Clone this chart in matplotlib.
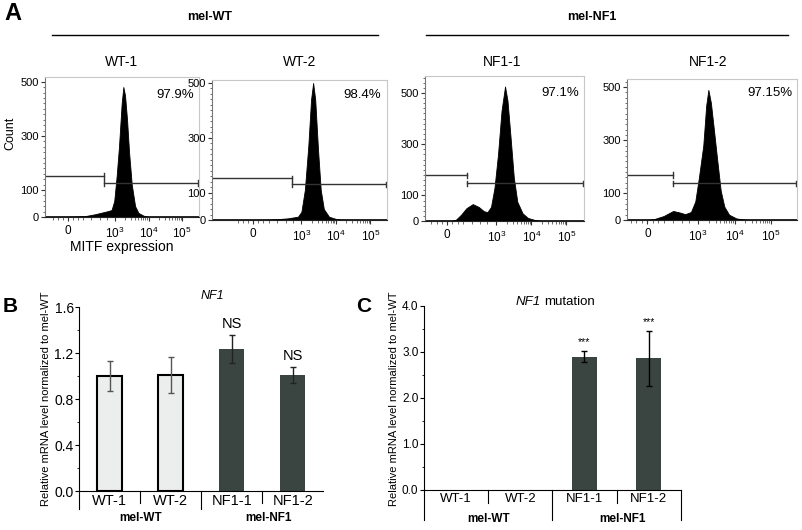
import numpy as np
import matplotlib
matplotlib.use('Agg')
import matplotlib.pyplot as plt
from matplotlib.lines import Line2D
from matplotlib.ticker import MultipleLocator, FixedLocator
import matplotlib.transforms as mtrans

plt.rcParams['font.family'] = ['Liberation Sans', 'DejaVu Sans']
plt.rcParams['mathtext.fontset'] = 'custom'
plt.rcParams['mathtext.rm'] = 'Liberation Sans'
plt.rcParams['mathtext.it'] = 'Liberation Sans:italic'

W, H = 802, 530

# flow histograms, x in display units (0 -> 0, 10^3 -> 1.4, 10^4 -> 2.4, 10^5 -> 3.4)
samples = ['WT-1', 'WT-2', 'NF1-1', 'NF1-2']
percents = ['97.9%', '98.4%', '97.1%', '97.15%']

wt1_x = [-0.1, 0.5, 0.8, 1.0, 1.2, 1.3, 1.38, 1.45, 1.52, 1.6, 1.65, 1.7, 1.76, 1.82, 1.9, 2.0, 2.1, 2.25, 2.4]
wt1_c = [0, 3, 10, 16, 22, 26, 60, 150, 260, 420, 481, 450, 360, 240, 120, 40, 15, 5, 0]
wt2_x = [0.3, 0.7, 1.0, 1.3, 1.4, 1.5, 1.6, 1.68, 1.74, 1.8, 1.88, 1.96, 2.05, 2.2, 2.4, 2.6]
wt2_c = [0, 3, 6, 12, 30, 110, 270, 440, 500, 440, 260, 110, 40, 12, 4, 0]
nf11_x = [0.1, 0.25, 0.4, 0.55, 0.73, 0.9, 1.05, 1.15, 1.25, 1.35, 1.45, 1.55, 1.65, 1.72, 1.8, 1.9, 2.0, 2.15, 2.3, 2.5, 2.7]
nf11_c = [0, 5, 25, 50, 66, 55, 38, 35, 55, 130, 260, 430, 525, 470, 340, 170, 75, 30, 12, 4, 0]
nf12_x = [0.0, 0.2, 0.45, 0.71, 0.9, 1.04, 1.2, 1.32, 1.42, 1.54, 1.62, 1.68, 1.75, 1.84, 1.92, 2.02, 2.12, 2.25, 2.45, 2.75]
nf12_c = [0, 4, 15, 34, 28, 22, 30, 70, 160, 280, 430, 489, 440, 330, 230, 110, 50, 20, 6, 0]

# gates: split position, left gate height, right gate height
gate_x = [1.07, 1.13, 0.58, 0.71]
gate_left = [152, 152, 179, 169]
gate_right = [126, 130, 147, 138]

flow_ticks = [0, 1.4, 2.4, 3.4]
flow_ticklabels = ['0', '$10^3$', '$10^4$', '$10^5$']
count_ticks = [0, 100, 300, 500]

# qPCR bars
groups = ['WT-1', 'WT-2', 'NF1-1', 'NF1-2']
nf1_expr = [1.0, 1.01, 1.24, 1.01]
nf1_err = [0.13, 0.155, 0.12, 0.07]
nf1_mut = [0, 0, 2.90, 2.86]
nf1_mut_err = [0, 0, 0.12, 0.6]
sig_b = ['', '', 'NS', 'NS']
sig_c = ['', '', '***', '***']

light = '#eceeed'
dark = '#3a4541'


def rect(l, t, r, b):
    return [l / W, 1 - b / H, (r - l) / W, (b - t) / H]


def ftext(x, y, s, ha='center', **kw):
    fig.text(x / W, 1 - y / H, s, ha=ha, va='center', **kw)


fig = plt.figure(figsize=(W / 100, H / 100), dpi=100)

# ---------------- panel A ----------------
flow_rects = [(45, 77, 199, 217), (212, 80, 387, 220), (425, 76, 584, 221), (627, 79, 797, 220)]
flow_xlims = [(-0.68, 3.9), (-1.19, 3.88), (-0.63, 3.9), (-0.56, 4.12)]
flow_ylims = [(0, 518), (0, 511), (0, 566), (0, 530)]
hist_x = [wt1_x, wt2_x, nf11_x, nf12_x]
hist_c = [wt1_c, wt2_c, nf11_c, nf12_c]
title_pos = [(122, 62), (300, 62), (502, 62), (708, 62)]
pct_pos = [(175, 95), (362, 95), (560, 93), (770, 93)]

minor_x = [-0.45, -0.3, -0.15, 0.15, 0.3, 0.45, 0.7, 0.95, 1.15]
for d in [1.4, 2.4]:
    minor_x += list(d + np.log10(np.arange(2, 10)))

for i in range(4):
    ax = fig.add_axes(rect(*flow_rects[i]))
    ax.fill_between(hist_x[i], hist_c[i], 0, color='black', lw=0.6)
    ax.plot(flow_xlims[i], [0, 0], color='black', lw=1.2)
    x0, x1 = flow_xlims[i]
    gx = gate_x[i]
    cap = 10
    # left gate
    ax.plot([x0, gx], [gate_left[i], gate_left[i]], color='#333333', lw=1)
    ax.plot([gx, gx], [gate_left[i] - cap, gate_left[i] + cap], color='#333333', lw=1)
    # right gate
    ax.plot([gx, x1 - 0.02], [gate_right[i], gate_right[i]], color='#333333', lw=1)
    ax.plot([gx, gx], [gate_right[i] - cap, gate_right[i] + cap], color='#333333', lw=1)
    ax.plot([x1 - 0.02, x1 - 0.02], [gate_right[i] - cap, gate_right[i] + cap], color='#333333', lw=1)
    ax.set_xlim(flow_xlims[i])
    ax.set_ylim(flow_ylims[i])
    ax.set_xticks(flow_ticks)
    ax.set_xticklabels(flow_ticklabels, fontsize=8.5)
    ax.xaxis.set_minor_locator(FixedLocator(minor_x))
    ax.set_yticks(count_ticks)
    ax.set_yticklabels([str(t) for t in count_ticks], fontsize=8)
    ax.yaxis.set_minor_locator(MultipleLocator(20))
    ax.tick_params(axis='both', which='major', direction='out', length=3, width=0.8, color='#333333', pad=1.5)
    ax.tick_params(axis='both', which='minor', direction='out', length=1.8, width=0.6, color='#555555')
    ax.tick_params(axis='x', pad=3)
    for s in ['top', 'right']:
        ax.spines[s].set_color('#c8c8c8')
        ax.spines[s].set_linewidth(0.8)
    ax.spines['left'].set_color('#777777')
    ax.spines['left'].set_linewidth(0.8)
    ax.spines['bottom'].set_color('#222222')
    ftext(*title_pos[i], samples[i], fontsize=10)
    ftext(*pct_pos[i], percents[i], fontsize=9.5)

ftext(122, 247, 'MITF expression', fontsize=10)
ftext(10, 133, 'Count', fontsize=9, rotation=90)
ftext(210, 17, 'mel-WT', fontsize=9, fontweight='bold')
ftext(592, 17, 'mel-NF1', fontsize=9, fontweight='bold')
fig.add_artist(Line2D([52 / W, 378 / W], [1 - 35 / H, 1 - 35 / H], color='black', lw=1))
fig.add_artist(Line2D([426 / W, 788 / W], [1 - 35 / H, 1 - 35 / H], color='black', lw=1))
ftext(13, 14, 'A', fontsize=17, fontweight='bold')


# ---------------- panels B and C ----------------
def bar_panel(box, vals, errs, sig, ymax, major, minor, width, ecol, short, long_, right_line,
              tick_fs, lab_fs, sig_fs, group_y):
    ax = fig.add_axes(rect(*box))
    x = np.arange(len(groups))
    faces = [light, light, dark, dark]
    edges = ['black', 'black', dark, dark]
    lws = [1.5, 1.5, 0, 0]
    for i in range(len(groups)):
        if vals[i] > 0:
            ax.bar(x[i], vals[i], width=width, color=faces[i], edgecolor=edges[i], linewidth=lws[i], zorder=2)
            ax.errorbar(x[i], vals[i], yerr=errs[i], fmt='none', ecolor=ecol[i], elinewidth=1, capsize=2.5,
                        capthick=1, zorder=3)
            if sig[i]:
                ax.text(x[i], vals[i] + errs[i] + ymax * 0.02, sig[i], ha='center', va='bottom', fontsize=sig_fs)
    ax.set_xlim(-0.5, len(groups) - 0.5)
    ax.set_ylim(0, ymax)
    ax.set_yticks(major)
    ax.set_yticklabels(['%.1f' % v for v in major], fontsize=tick_fs)
    ax.yaxis.set_minor_locator(MultipleLocator(minor))
    ax.tick_params(axis='y', which='major', direction='out', length=3, width=0.8, pad=1)
    ax.tick_params(axis='y', which='minor', direction='out', length=1.8, width=0.6)
    ax.set_xticks(x)
    ax.set_xticklabels(groups, fontsize=lab_fs)
    ax.tick_params(axis='x', length=0, pad=2)
    ax.spines['top'].set_visible(False)
    ax.spines['right'].set_visible(False)
    ax.spines['left'].set_linewidth(0.8)
    ax.spines['bottom'].set_linewidth(0.8)
    tr = mtrans.blended_transform_factory(ax.transData, ax.transAxes)
    ax.plot([-0.5, -0.5], [0, -long_], transform=tr, color='black', lw=0.8, clip_on=False)
    ax.plot([0.5, 0.5], [0, -short], transform=tr, color='black', lw=0.8, clip_on=False)
    ax.plot([1.5, 1.5], [0, -long_], transform=tr, color='black', lw=0.8, clip_on=False)
    ax.plot([2.5, 2.5], [0, -short], transform=tr, color='black', lw=0.8, clip_on=False)
    if right_line:
        ax.plot([3.5, 3.5], [0, -long_], transform=tr, color='black', lw=0.8, clip_on=False)
    ax.text(0.5, group_y, 'mel-WT', transform=tr, ha='center', va='center', fontsize=8.5, fontweight='bold')
    ax.text(2.6, group_y, 'mel-NF1', transform=tr, ha='center', va='center', fontsize=8.5, fontweight='bold')
    return ax


bar_panel((79.3, 307.3, 323.3, 491.3), nf1_expr, nf1_err, sig_b, 1.6, [0.0, 0.4, 0.8, 1.2, 1.6], 0.2, 0.41,
          ['#555555', '#555555', '#222222', '#222222'], 0.065, 0.098, False, 10, 10.5, 10.5, -0.145)
bar_panel((424, 306, 680.7, 490), nf1_mut, nf1_mut_err, sig_c, 4.0, [0.0, 1.0, 2.0, 3.0, 4.0], 0.5, 0.4,
          ['black'] * 4, 0.071, 0.163, True, 8.5, 9.5, 7.5, -0.158)

ftext(212, 296, 'NF1', fontsize=9, fontstyle='italic')
ftext(541, 302, 'NF1', ha='right', fontsize=9.5, fontstyle='italic')
ftext(544, 302, 'mutation', ha='left', fontsize=9.5)

ylab = 'Relative mRNA level normalized to mel-WT'
ftext(46, 399, ylab, fontsize=8, rotation=90)
ftext(394, 399, ylab, fontsize=8, rotation=90)
ftext(10, 306, 'B', fontsize=15, fontweight='bold')
ftext(364, 306, 'C', fontsize=15, fontweight='bold')

fig.savefig('out.png', dpi=100)
